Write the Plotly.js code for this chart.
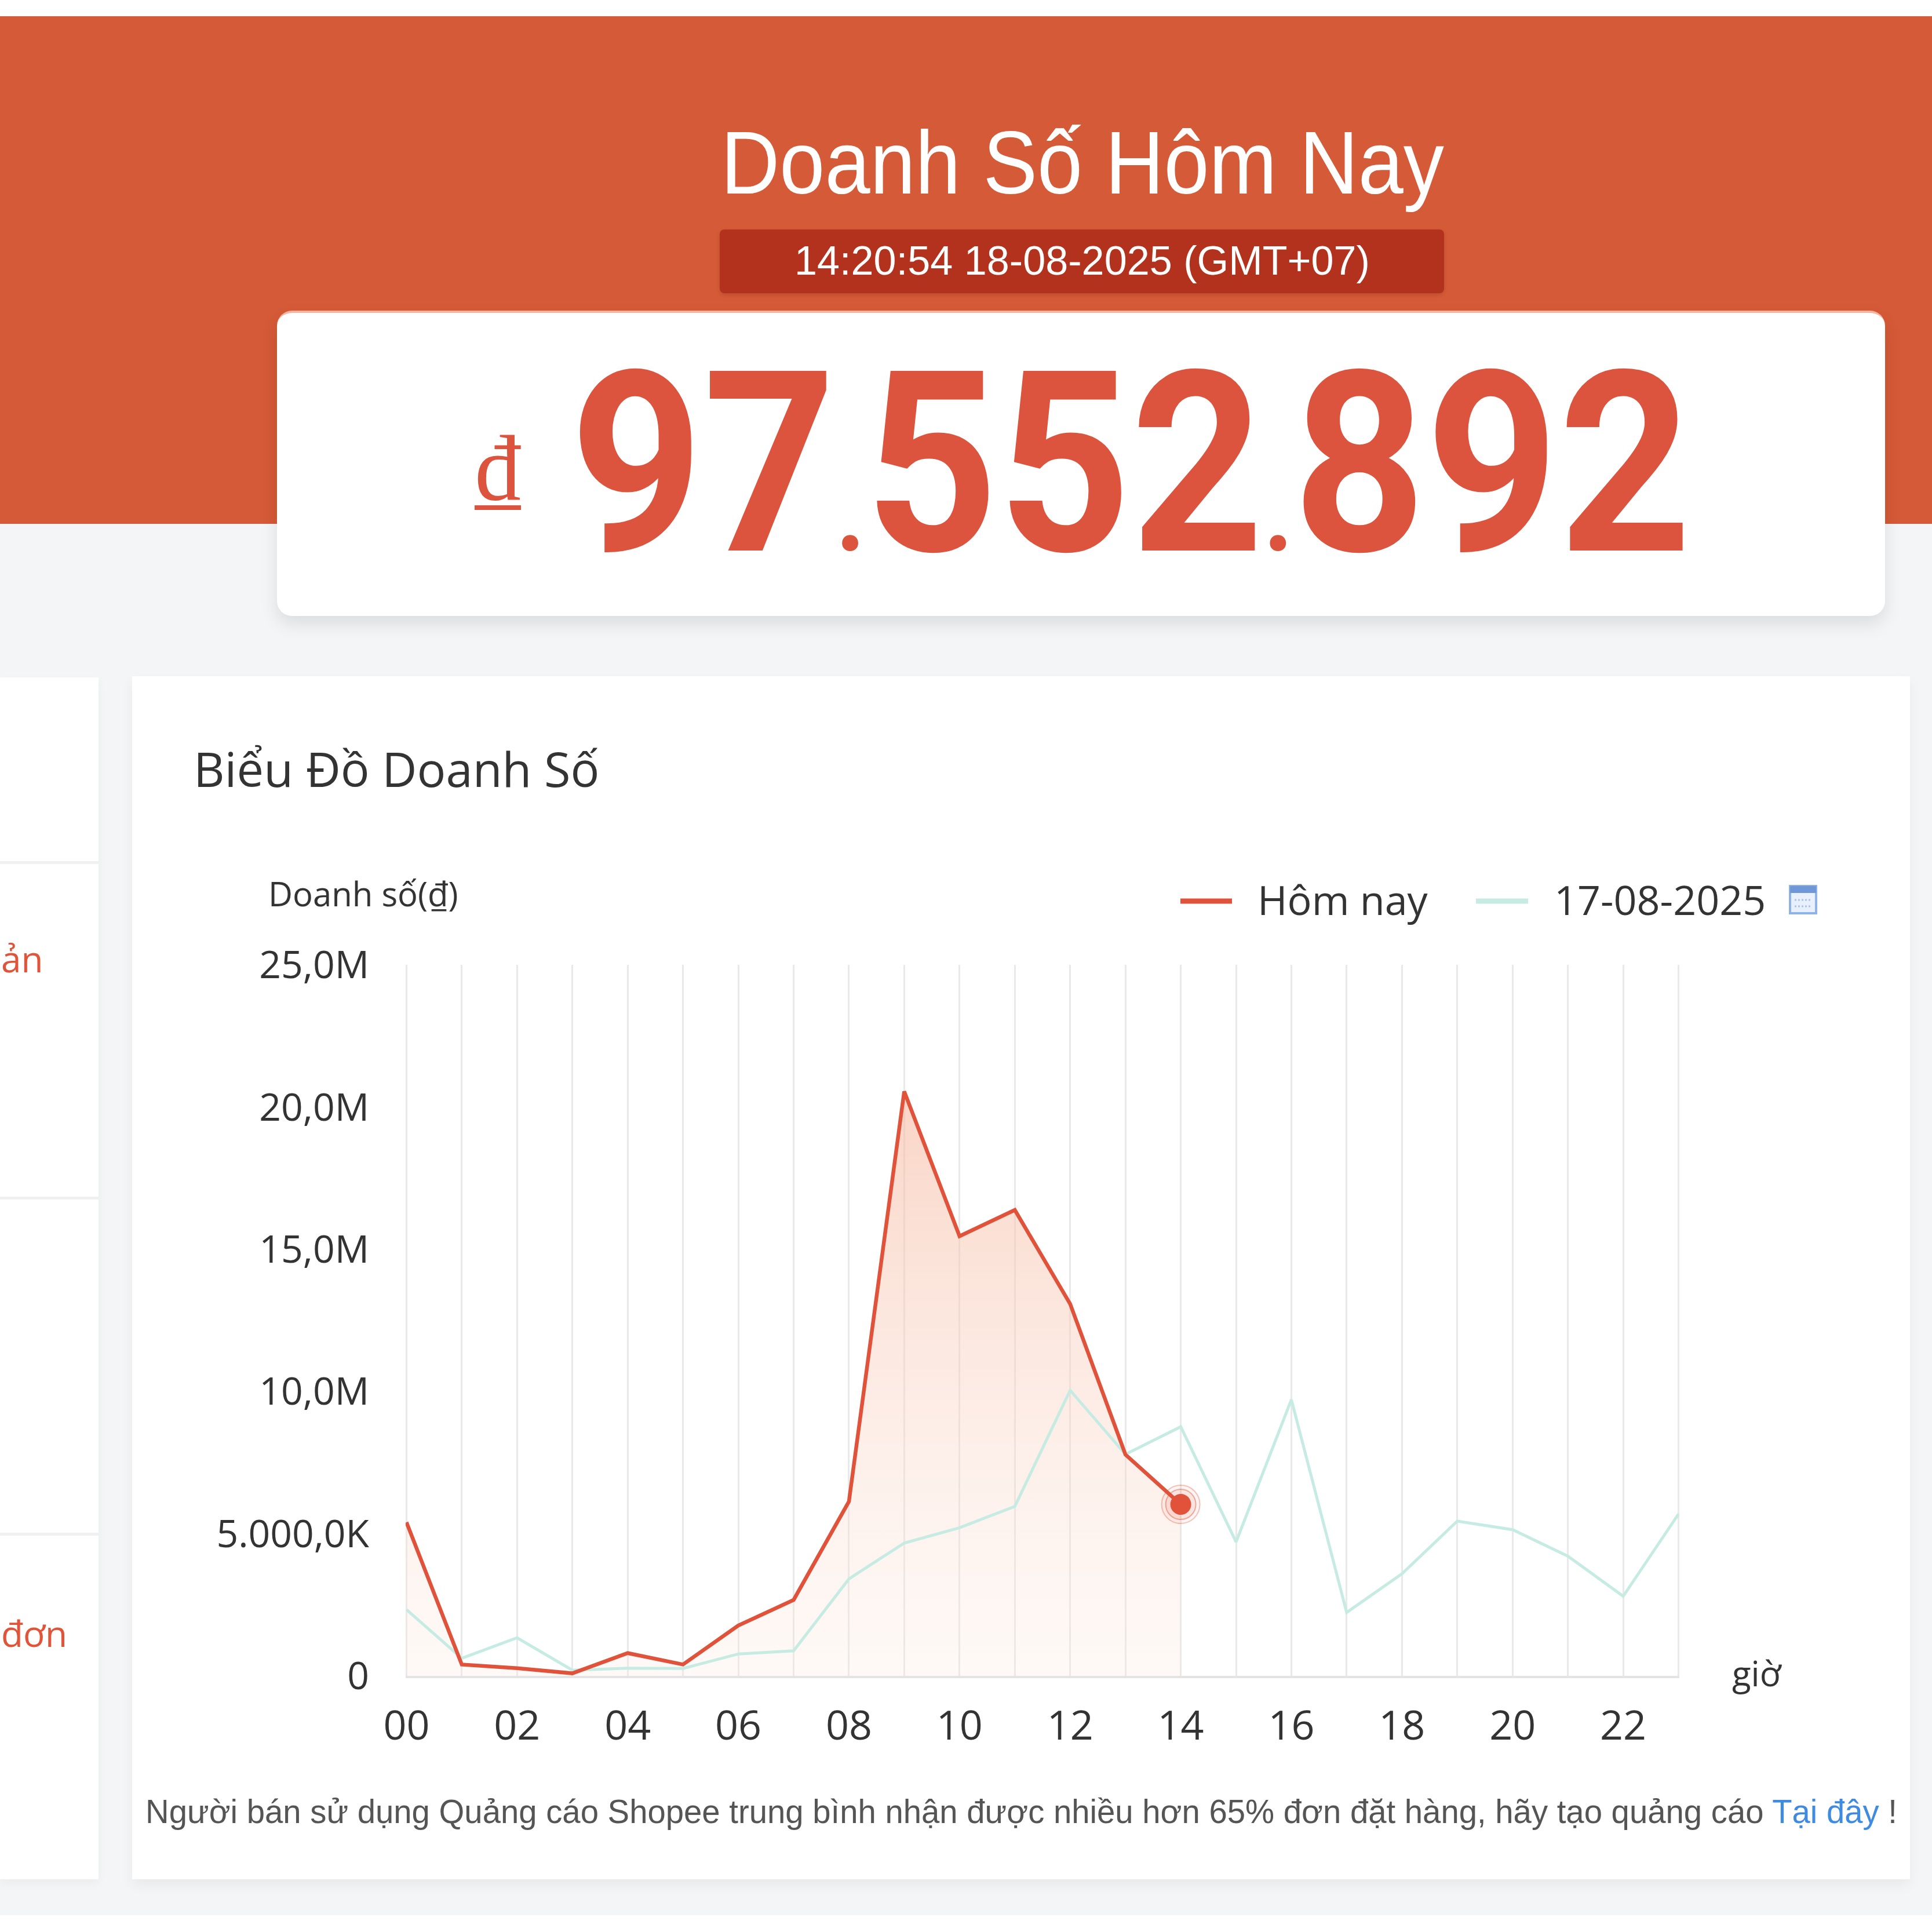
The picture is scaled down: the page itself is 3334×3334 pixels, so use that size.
<!DOCTYPE html>
<html>
<head>
<meta charset="utf-8">
<script src="https://cdn.plot.ly/plotly-3.0.1.min.js"></script>
<style>
  html, body { margin: 0; padding: 0; }
  body {
    width: 3334px; height: 3334px; position: relative; overflow: hidden;
    background: #f4f5f7; font-family: "Liberation Sans", Arial, sans-serif;
  }
  .abs { position: absolute; white-space: nowrap; }
  #topstrip { left: 0; top: 0; width: 3334px; height: 28px; background: #fff; }
  #banner { left: 0; top: 28px; width: 3334px; height: 876px; background: #d55a37; }
  #bottomstrip { left: 0; top: 3305px; width: 3334px; height: 29px; background: #fff; }
  #title { left: 1244px; top: 204px; font-size: 154px; line-height: 154px; color: #fff; transform-origin: left center; }
  #stamp { left: 1242px; top: 396px; width: 1250px; height: 110px; background: #b2321d; border-radius: 8px;
           box-shadow: 0 3px 6px rgba(0,0,0,0.12); }
  #stampText { left: 1371px; top: 414px; font-size: 71px; line-height: 71px; color: #fff; transform-origin: left center; }
  #card { left: 478px; top: 536px; width: 2775px; height: 527px; background: #fff; border-radius: 26px;
          box-shadow: 0 14px 30px rgba(0,0,0,0.10); border-top: 4px solid #f6b3a0; box-sizing: border-box; }
  #dong { left: 819px; top: 728px; font-family: "Liberation Serif", "Times New Roman", serif; font-size: 160px; line-height: 160px;
          color: #dd543e; text-decoration: underline; text-decoration-thickness: 8px; text-underline-offset: 10px; }
  #amount { left: 984px; top: 583px; font-family: Roboto, sans-serif; font-weight: 700; font-size: 436px; line-height: 436px;
            color: #dd543e; transform-origin: left center; }
  #amount .dot { font-size: 190px; }
  #leftpanel { left: 0; top: 1169px; width: 170px; height: 2074px; background: #fff; overflow: hidden;
               box-shadow: 0 8px 16px rgba(0,0,0,0.04); }
  .divider { position: absolute; left: 0; width: 170px; height: 5px; background: #f0f0f0; }
  .sidetext { position: absolute; white-space: nowrap; font-family: "Open Sans", sans-serif; font-size: 62px; line-height: 62px; color: #e0553a; }
  #chartcard { left: 228px; top: 1167px; width: 3068px; height: 2076px; background: #fff;
               box-shadow: 0 10px 20px rgba(0,0,0,0.05); }
  #chart { left: 228px; top: 1167px; width: 3068px; height: 2076px; }
  #note { left: 251px; top: 3097px; font-size: 58px; line-height: 58px; color: #555; transform-origin: left center; }
  #note span { color: #3f8be0; }
</style>
</head>
<body>
<div class="abs" id="topstrip"></div>
<div class="abs" id="banner"></div>
<div class="abs" id="bottomstrip"></div>
<div class="abs" id="title">Doanh Số Hôm Nay</div>
<div class="abs" id="stamp"></div>
<div class="abs" id="stampText">14:20:54 18-08-2025 (GMT+07)</div>
<div class="abs" id="card"></div>
<div class="abs" id="dong">đ</div>
<div class="abs" id="amount">97<span class="dot">.</span>552<span class="dot">.</span>892</div>

<div class="abs" id="leftpanel">
  <div class="divider" style="top:317px"></div>
  <div class="divider" style="top:896px"></div>
  <div class="divider" style="top:1476px"></div>
  <div class="sidetext" style="left:2px; top:454px">ản</div>
  <div class="sidetext" style="left:2px; top:1618px">đơn</div>
</div>

<div class="abs" id="chartcard"></div>
<div class="abs" id="chart"></div>
<div class="abs" id="note">Người bán sử dụng Quảng cáo Shopee trung bình nhận được nhiều hơn 65% đơn đặt hàng, hãy tạo quảng cáo <span>Tại đây</span> !</div>

<script>
// gio trong ngay
var hours = ["00","01","02","03","04","05","06","07","08","09","10","11",
             "12","13","14","15","16","17","18","19","20","21","22","23"];
// doanh so hom nay (den 14h)
var todaySales = [5400000, 400000, 270000, 90000, 800000, 400000, 1770000, 2670000,
                  6130000, 20550000, 15460000, 16380000, 13080000, 7780000, 6030000];
// doanh so ngay 17-08-2025
var yesterdaySales = [2330000, 620000, 1340000, 200000, 270000, 260000, 770000, 880000,
                      3410000, 4670000, 5210000, 5960000, 10040000, 7790000, 8760000, 4710000,
                      9710000, 2230000, 3590000, 5440000, 5140000, 4210000, 2800000, 5690000];
var seriesNames = ["Hôm nay", "17-08-2025"];
var yTickVals = [0, 5000000, 10000000, 15000000, 20000000, 25000000];
var yTickText = ["0", "5.000,0K", "10,0M", "15,0M", "20,0M", "25,0M"];

var idx = hours.map(function(h, i){ return i; });
var xLabels = hours.map(function(h, i){ return i % 2 ? "" : h; });
var todayX = idx.slice(0, todaySales.length);
var lastX = todayX[todayX.length - 1];
var lastY = todaySales[todaySales.length - 1];

var RED = "#e1523a";
var TEAL = "#c5ebe3";

// khung ve (px trong div)
var W = 3068, H = 2076, ML = 472, MR = 398, MT = 498, MB = 351;
var PW = W - ML - MR, PH = H - MT - MB;
function px(x){ return (x - ML) / PW; }
function py(y){ return (H - MB - y) / PH; }

var traces = [
  {
    x: todayX, y: todaySales, type: "scatter", mode: "none", fill: "tozeroy",
    fillgradient: { type: "vertical",
      colorscale: [[0, "rgba(252,232,222,0.25)"], [1, "rgba(246,185,160,0.6)"]] },
    showlegend: false, hoverinfo: "skip"
  },
  {
    x: idx, y: yesterdaySales, type: "scatter", mode: "lines", name: seriesNames[1],
    line: { color: TEAL, width: 5 }, showlegend: false
  },
  {
    x: todayX, y: todaySales, type: "scatter", mode: "lines", name: seriesNames[0],
    line: { color: RED, width: 6.5 }, showlegend: false
  },
  {
    x: [lastX], y: [lastY], type: "scatter", mode: "markers", showlegend: false,
    marker: { size: 66, color: "rgba(225,82,58,0.06)", line: { color: "rgba(225,82,58,0.35)", width: 2 } }
  },
  {
    x: [lastX], y: [lastY], type: "scatter", mode: "markers", showlegend: false,
    marker: { size: 52, color: "rgba(225,82,58,0.10)", line: { color: "rgba(225,82,58,0.45)", width: 2 } }
  },
  {
    x: [lastX], y: [lastY], type: "scatter", mode: "markers", showlegend: false,
    marker: { size: 36, color: RED, line: { width: 0 } }
  }
];

var legendFont = { size: 70, color: "#333" };

var layout = {
  width: W, height: H,
  margin: { l: ML, r: MR, t: MT, b: MB },
  paper_bgcolor: "rgba(0,0,0,0)", plot_bgcolor: "rgba(0,0,0,0)",
  font: { family: "Open Sans, sans-serif", color: "#333" },
  title: {
    text: "Biểu Đồ Doanh Số", xref: "container", yref: "container",
    x: 106 / W, xanchor: "left", y: 1 - 162 / H, yanchor: "middle",
    font: { size: 83, color: "#333" }
  },
  showlegend: false,
  xaxis: {
    range: [-0.015, 23.015], tickvals: idx, ticktext: xLabels, ticks: "",
    showgrid: true, gridcolor: "#e9e9e9", gridwidth: 3, zeroline: false,
    showline: true, linecolor: "#e4e4e4", linewidth: 4,
    tickfont: { size: 70, color: "#333" }, ticklabelstandoff: 22, fixedrange: true
  },
  yaxis: {
    range: [0, 25000000], tickvals: yTickVals, ticktext: yTickText, ticks: "",
    showgrid: false, zeroline: false, showline: false,
    tickfont: { size: 66, color: "#333" }, ticklabelstandoff: 62, fixedrange: true
  },
  annotations: [
    { text: "Doanh số(₫)", xref: "paper", yref: "paper", x: px(233), y: py(375),
      xanchor: "left", yanchor: "middle", showarrow: false, font: { size: 58, color: "#333" } },
    { text: "giờ", xref: "paper", yref: "paper", x: px(2759), y: py(1720),
      xanchor: "left", yanchor: "middle", showarrow: false, font: { size: 60, color: "#333" } },
    // chu thich
    { text: seriesNames[0], xref: "paper", yref: "paper", x: px(1940), y: py(385),
      xanchor: "left", yanchor: "middle", showarrow: false, font: legendFont },
    { text: seriesNames[1], xref: "paper", yref: "paper", x: px(2452), y: py(385),
      xanchor: "left", yanchor: "middle", showarrow: false, font: legendFont }
  ],
  shapes: [
    // mau chu thich
    { type: "line", xref: "paper", yref: "paper", x0: px(1809), x1: px(1898), y0: py(388), y1: py(388),
      line: { color: RED, width: 9 } },
    { type: "line", xref: "paper", yref: "paper", x0: px(2319), x1: px(2409), y0: py(388), y1: py(388),
      line: { color: TEAL, width: 9 } },
    // bieu tuong lich
    { type: "rect", xref: "paper", yref: "paper", x0: px(2861), x1: px(2906), y0: py(409), y1: py(362),
      line: { color: "#8fb3e8", width: 4 }, fillcolor: "#e8f0fc" },
    { type: "rect", xref: "paper", yref: "paper", x0: px(2861), x1: px(2906), y0: py(374), y1: py(362),
      line: { width: 0 }, fillcolor: "#6f97d8" },
    { type: "line", xref: "paper", yref: "paper", x0: px(2869), x1: px(2898), y0: py(386), y1: py(386),
      line: { color: "#a9c3ee", width: 3, dash: "dot" } },
    { type: "line", xref: "paper", yref: "paper", x0: px(2869), x1: px(2898), y0: py(397), y1: py(397),
      line: { color: "#a9c3ee", width: 3, dash: "dot" } }
  ]
};

Plotly.newPlot("chart", traces, layout, { staticPlot: true, displayModeBar: false });

// chinh do rong chu cho giong anh
function fitWidth(id, w){
  var el = document.getElementById(id);
  var r = el.getBoundingClientRect();
  el.style.transform = "scaleX(" + (w / r.width) + ")";
}
fitWidth("title", 1248);
fitWidth("stampText", 993);
fitWidth("note", 3023);
fitWidth("amount", 1935);
</script>
</body>
</html>
